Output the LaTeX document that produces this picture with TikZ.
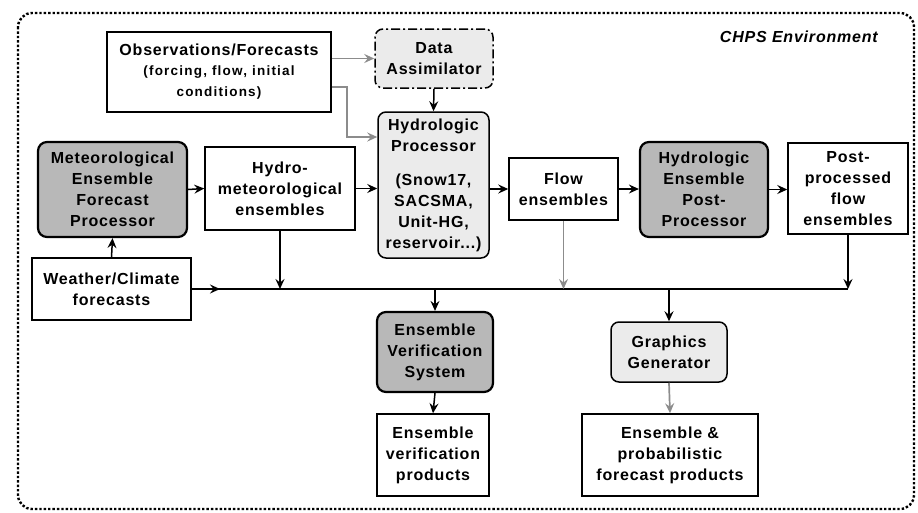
\documentclass[tikz,border=0pt]{standalone}
\usepackage{fontspec}
\setmainfont{Liberation Sans}[LetterSpace=5]
\newfontfamily\notefont{Liberation Sans}[LetterSpace=9]
\newcommand\notesize{\notefont\fontsize{13.5}{20}\selectfont}
\usetikzlibrary{arrows.meta,calc}
\definecolor{darkfill}{HTML}{B8B8B8}
\definecolor{lightfill}{HTML}{EBEBEB}
\definecolor{linkgray}{HTML}{8C8C8C}
\begin{document}
\begin{tikzpicture}[x=1pt,y=-1pt,
  every node/.style={font=\fontsize{16}{21}\selectfont\bfseries, align=center, inner sep=0pt},
  plainbox/.style={draw, line width=1.5pt, fill=white},
  darkbox/.style={draw, line width=2.2pt, fill=darkfill, rounded corners=9pt},
  lightbox/.style={draw, line width=1.5pt, fill=lightfill, rounded corners=8pt},
  link/.style={line width=1.5pt, -{Stealth[length=10pt,width=9pt,inset=3.5pt]}},
  graylink/.style={link, draw=linkgray, line width=1.7pt},
  plainline/.style={line width=1.5pt}]
\useasboundingbox (0,0) rectangle (918,512);

% environment frame
\draw[line width=2.4pt, dotted, rounded corners=14pt] (18,13) rectangle (914,509);
\node[anchor=east, font=\fontsize{16}{20}\selectfont\bfseries\itshape] (env) at (878,37) {CHPS Environment};

% boxes
\node[plainbox, minimum width=224pt, minimum height=80pt] (obs) at (219,72)
  {Observations/Forecasts\\[-1pt]\notesize (forcing, flow, initial\\\notesize conditions)};
\node[lightbox, dash pattern=on 9pt off 3pt on 2pt off 3pt, minimum width=118pt, minimum height=59pt] (da) at (434,58.5) {Data\\Assimilator};
\node[lightbox, minimum width=111pt, minimum height=146pt] (hp) at (433.5,185)
  {Hydrologic\\Processor\\[13pt](Snow17,\\SACSMA,\\Unit-HG,\\reservoir...)};
\node[darkbox, minimum width=149pt, minimum height=95pt] (mefp) at (112.5,189.5)
  {Meteorological\\Ensemble\\Forecast\\Processor};
\node[plainbox, minimum width=150pt, minimum height=83pt] (hme) at (280,188.5)
  {Hydro-\\meteorological\\ensembles};
\node[plainbox, minimum width=159pt, minimum height=62pt] (wc) at (111.5,289)
  {Weather/Climate\\forecasts};
\node[plainbox, minimum width=109pt, minimum height=62pt] (flow) at (563.5,189)
  {Flow\\ensembles};
\node[darkbox, minimum width=128pt, minimum height=95pt] (hepp) at (704,189.5)
  {Hydrologic\\Ensemble\\Post-\\Processor};
\node[plainbox, minimum width=120pt, minimum height=91pt] (pp) at (848,188.5)
  {Post-\\processed\\flow\\ensembles};
\node[darkbox, minimum width=116pt, minimum height=80pt] (evs) at (435,352)
  {Ensemble\\Verification\\System};
\node[plainbox, minimum width=112pt, minimum height=82pt] (evp) at (433,455)
  {Ensemble\\verification\\products};
\node[lightbox, minimum width=116pt, minimum height=60pt] (gg) at (669,352)
  {Graphics\\Generator};
\node[plainbox, minimum width=176pt, minimum height=82pt] (efp) at (670,455)
  {Ensemble \&\\probabilistic\\forecast products};

% shared distribution line
\coordinate (busend) at (848,289);
\coordinate (busarrow) at (220,289);
\coordinate (obsbend) at (347,137);
\draw[plainline] (wc.east) -- (busend);
\draw[link] (wc.east) -- (busarrow);

% observations feed
\draw[graylink] (obs.east |- da.west) -- (da.west);
\draw[graylink] ([yshift=-15pt]obs.east) -| (obsbend) -- (obsbend -| hp.west);
\draw[link] (da.south) -- (hp.north);

% main chain
\draw[link] (wc.north) -- (mefp.south);
\draw[link] (mefp.east) -- (hme.west);
\draw[link] (hme.east) -- (hme.east -| hp.west);
\draw[link] (hp.east |- flow.west) -- (flow.west);
\draw[link] (flow.east) -- (flow.east -| hepp.west);
\draw[link] (hepp.east) -- (hepp.east -| pp.west);

% into the distribution line
\draw[link] (hme.south) -- (hme.south |- busend);
\draw[graylink] (flow.south) -- (flow.south |- busend);
\draw[link] (pp.south) -- (busend);

% out of the distribution line
\draw[link] (evs.north |- busend) -- (evs.north);
\draw[link] (gg.north |- busend) -- (gg.north);
\draw[link] (evs.south) -- (evp.north);
\draw[graylink] (gg.south) -- (efp.north);
\end{tikzpicture}
\end{document}
